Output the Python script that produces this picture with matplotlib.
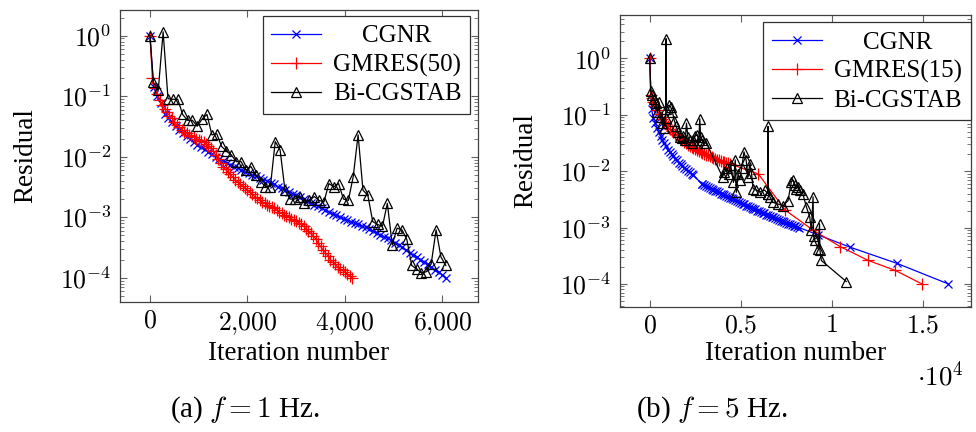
import numpy as np
import matplotlib
matplotlib.use("Agg")
import matplotlib.pyplot as plt
from matplotlib import ticker

plt.rcParams['font.family'] = ['Liberation Serif', 'DejaVu Serif']
plt.rcParams['mathtext.fontset'] = 'cm'
plt.rcParams['font.size'] = 18

# ---------------- data: (a) f = 1 Hz ----------------
a_cgnr_it = list(range(0, 6076, 75))
a_cgnr_res = [1.0, 0.141, 0.100, 0.076, 0.051, 0.044, 0.037, 0.032, 0.028, 0.0245,
              0.0219, 0.0195, 0.0174, 0.0158, 0.0145, 0.0132, 0.0120, 0.0110, 0.0100, 0.0091,
              0.0085, 0.0079, 0.0074, 0.0069, 0.0065, 0.0060, 0.0056, 0.0054, 0.0050, 0.0048,
              0.0045, 0.0042, 0.0040, 0.0037, 0.0035, 0.0032, 0.0030, 0.0028, 0.0026, 0.00245,
              0.00229, 0.00214, 0.0020, 0.00186, 0.00174, 0.00162, 0.00151, 0.00141, 0.00132, 0.00123,
              0.00115, 0.00107, 0.00100, 0.00095, 0.00089, 0.00085, 0.00079, 0.00076, 0.00071, 0.00068,
              0.00063, 0.00059, 0.00055, 0.00051, 0.00048, 0.00045, 0.00042, 0.00038, 0.00035, 0.00032,
              0.00029, 0.00026, 0.00024, 0.00022, 0.00020, 0.00018, 0.000166, 0.000148, 0.000135, 0.000123,
              0.000112, 0.000100]

a_gmres_it = list(range(0, 4151, 50))
a_gmres_res = [1.0, 0.20, 0.138, 0.107, 0.087, 0.071, 0.062, 0.054, 0.048, 0.043,
               0.038, 0.034, 0.031, 0.028, 0.026, 0.0245, 0.0229, 0.0219, 0.0209, 0.0200,
               0.0191, 0.0182, 0.0174, 0.0162, 0.0151, 0.0138, 0.0123, 0.0107, 0.0093, 0.0079,
               0.0069, 0.0062, 0.0056, 0.0051, 0.0046, 0.0042, 0.0038, 0.0035, 0.0033, 0.0030,
               0.0028, 0.0026, 0.0024, 0.0022, 0.0021, 0.0019, 0.0018, 0.0017, 0.0016, 0.00155,
               0.00148, 0.00141, 0.00132, 0.00123, 0.00117, 0.0011, 0.00105, 0.0010, 0.00095, 0.00091,
               0.00087, 0.00081, 0.00076, 0.00071, 0.00065, 0.00059, 0.00054, 0.00049, 0.00044, 0.00038,
               0.00033, 0.00029, 0.00026, 0.00023, 0.0002, 0.00018, 0.000166, 0.000151, 0.000141, 0.000132,
               0.000123, 0.000115, 0.000107, 0.0001]

a_bicg_it = [0] + list(range(70, 6071, 100))
a_bicg_res = [1.0, 0.17, 0.126, 1.16, 0.091, 0.089, 0.089, 0.05, 0.04, 0.04,
              0.032, 0.042, 0.05, 0.023, 0.024, 0.0148, 0.0123, 0.0107, 0.0083, 0.0083,
              0.006, 0.0069, 0.005, 0.0039, 0.0032, 0.0032, 0.0178, 0.0129, 0.0028, 0.002,
              0.002, 0.0022, 0.0017, 0.0019, 0.0022, 0.0019, 0.0018, 0.0036, 0.0032, 0.0036,
              0.002, 0.0019, 0.0047, 0.023, 0.0028, 0.0023, 0.00085, 0.00076, 0.00071, 0.0017,
              0.00035, 0.00066, 0.00062, 0.00043, 0.00016, 0.00014, 0.00012, 0.000126, 0.00017, 0.00062,
              0.00022, 0.00016]

# ---------------- data: (b) f = 5 Hz ----------------
b_cgnr_it = [0] + list(range(100, 2401, 100)) + [2850] + list(range(2900, 8201, 100)) + [9250, 10990, 13600, 16400]
b_cgnr_res = [1.0,
              0.126, 0.087, 0.071, 0.059, 0.049, 0.042, 0.036, 0.032, 0.0275, 0.024,
              0.0219, 0.0200, 0.0182, 0.0166, 0.0155, 0.0141, 0.0132, 0.0123, 0.0115, 0.0107,
              0.0100, 0.0095, 0.0089, 0.0085,
              0.0060,
              0.0059, 0.0056, 0.0054, 0.0052, 0.0050, 0.0049, 0.0047, 0.0045, 0.0044, 0.0042,
              0.0040, 0.0039, 0.0037, 0.0036, 0.0035, 0.0034, 0.0033, 0.0032, 0.0031, 0.0030,
              0.0028, 0.00275, 0.0026, 0.00257, 0.00245, 0.0024, 0.0023, 0.0022, 0.00214, 0.0021,
              0.0020, 0.00195, 0.00186, 0.00182, 0.00178, 0.0017, 0.00166, 0.00158, 0.00155, 0.00151,
              0.00145, 0.00141, 0.00135, 0.00132, 0.00129, 0.00123, 0.0012, 0.00117, 0.00115, 0.0011,
              0.00107, 0.00105, 0.00102, 0.00100,
              0.00074, 0.00045, 0.00023, 0.0001]

b_gmres_it = [0, 50] + list(range(100, 4401, 100)) + [5970, 7440, 8990, 10460, 12010, 13480, 14950]
b_gmres_res = [1.0, 0.22,
               0.20, 0.166, 0.141, 0.120, 0.105, 0.093, 0.083, 0.074, 0.068, 0.062,
               0.056, 0.052, 0.049, 0.046, 0.043, 0.040, 0.037, 0.035, 0.033, 0.031,
               0.0295, 0.0282, 0.0269, 0.0257, 0.0245, 0.0234, 0.0224, 0.0219, 0.0209, 0.0204,
               0.0195, 0.0191, 0.0182, 0.0178, 0.0170, 0.0166, 0.0158, 0.0155, 0.0151, 0.0148,
               0.0145, 0.0141, 0.0138, 0.0135,
               0.0089, 0.00204, 0.00089, 0.00046, 0.00026, 0.000174, 0.0001]

b_bicg_it = [0, 60, 150, 250, 330, 420, 500, 580, 680, 760,
             880, 900, 920, 1050, 1150, 1250, 1350, 1450, 1550, 1650,
             1750, 1850, 1950, 2020, 2100, 2200, 2300, 2400, 2500, 2600,
             2700, 2750, 2800, 2900, 3000, 3100, 4000, 4100, 4250, 4350,
             4450, 4600, 4700, 4760, 4850, 4950, 5050, 5180, 5300, 5400,
             5500, 5590, 5680, 5860, 6040, 6320, 6480, 6500, 6520, 6600,
             6780, 7050, 7330, 7600, 7780, 7880, 7970, 8060, 8150, 8240,
             8420, 8610, 8790, 8880, 8975, 9000, 9070, 9250, 9330, 9350,
             9430, 10800]
b_bicg_res = [1.0, 0.26, 0.22, 0.19, 0.16, 0.11, 0.17, 0.091, 0.071, 0.058,
              0.089, 2.24, 0.126, 0.148, 0.138, 0.112, 0.079, 0.063, 0.050, 0.041,
              0.038, 0.042, 0.035, 0.071, 0.040, 0.035, 0.032, 0.035, 0.042, 0.044,
              0.035, 0.085, 0.040, 0.035, 0.031, 0.032, 0.0079, 0.0095, 0.0112, 0.0089,
              0.0126, 0.0063, 0.0158, 0.0042, 0.0089, 0.0071, 0.0112, 0.022, 0.0155, 0.0079,
              0.0135, 0.0093, 0.0049, 0.0046, 0.0043, 0.0046, 0.0040, 0.062, 0.0039, 0.0035,
              0.0028, 0.0026, 0.00245, 0.0030, 0.0065, 0.0069, 0.0056, 0.0049, 0.0052, 0.0046,
              0.0039, 0.0023, 0.00155, 0.00089, 0.0035, 0.00071, 0.00059, 0.00042, 0.00117, 0.0004,
              0.00026, 0.00011]

labels_a = ["CGNR", "GMRES(50)", "Bi-CGSTAB"]
labels_b = ["CGNR", "GMRES(15)", "Bi-CGSTAB"]

FS = 19.5
fig = plt.figure(figsize=(9.76, 4.32), dpi=100)
ax1 = fig.add_axes([120/976, 1-302/432, 358/976, 292/432])
ax2 = fig.add_axes([619.7/976, 1-307/432, 351.3/976, 292/432])

lw = 0.9
def draw(ax, d, labels):
    (c_it, c_r), (g_it, g_r), (b_it, b_r) = d
    ax.plot(c_it, c_r, color='blue', marker='x', ms=5.5, mew=0.9, lw=lw, label=labels[0])
    ax.plot(g_it, g_r, color='red', marker='+', ms=8, mew=0.9, lw=lw, label=labels[1])
    ax.plot(b_it, b_r, color='black', marker='^', ms=7, mew=0.9, mfc='none', lw=lw, label=labels[2])
    ax.set_yscale('log')
    ax.yaxis.set_major_locator(ticker.LogLocator(base=10, numticks=20))
    ax.yaxis.set_minor_locator(ticker.LogLocator(base=10, subs=np.arange(2, 10), numticks=20))
    ax.yaxis.set_major_formatter(ticker.FuncFormatter(lambda v, p: r"$10^{%d}$" % int(round(np.log10(v)))))
    ax.yaxis.set_minor_formatter(ticker.NullFormatter())
    for s in ax.spines.values():
        s.set_color('#404040')
        s.set_linewidth(0.9)
    ax.tick_params(which='both', direction='in', top=True, right=True, color='#606060')
    ax.tick_params(which='major', length=5, width=0.8, labelsize=18.5, pad=6)
    ax.tick_params(which='minor', length=3, width=0.6)
    ax.set_ylabel("Residual", fontsize=FS, labelpad=16)
    ax.set_xlabel("Iteration number", fontsize=FS, labelpad=3)

draw(ax1, [(a_cgnr_it, a_cgnr_res), (a_gmres_it, a_gmres_res), (a_bicg_it, a_bicg_res)], labels_a)
draw(ax2, [(b_cgnr_it, b_cgnr_res), (b_gmres_it, b_gmres_res), (b_bicg_it, b_bicg_res)], labels_b)

ax1.set_xlim(-615, 6730)
ax1.set_ylim(10**-4.40, 10**0.425)
ax1.set_xticks([0, 2000, 4000, 6000])
ax1.xaxis.set_major_formatter(ticker.FuncFormatter(lambda v, p: "$" + f"{int(v):,}".replace(",", "{,}") + "$"))

ax2.set_xlim(-1648, 17650)
ax2.set_ylim(10**-4.41, 10**0.77)
ax2.set_xticks([0, 5000, 10000, 15000])
ax2.xaxis.set_major_formatter(ticker.FuncFormatter(lambda v, p: "$%g$" % (v / 1e4)))

legs = []
for ax, anchor in [(ax1, (0.978, 0.979)), (ax2, (0.999, 0.975))]:
    leg = ax.legend(loc='upper right', bbox_to_anchor=anchor, borderaxespad=0, fontsize=18,
                    handlelength=2.0, handletextpad=0.45, borderpad=0.35, labelspacing=0.25,
                    fancybox=False, framealpha=1, edgecolor='#303030')
    leg.get_frame().set_linewidth(0.9)
    legs.append(leg)

fig.text(940/976, 1-376/432, r"$\cdot 10^{4}$", fontsize=FS, ha='center', va='center')
fig.text(245/976, 1-410/432, r"(a) $f = 1$ Hz.", fontsize=21, ha='center', va='center')
fig.text(712/976, 1-410/432, r"(b) $f = 5$ Hz.", fontsize=21, ha='center', va='center')

# centre legend texts within their column (as in pgfplots)
fig.canvas.draw()
r = fig.canvas.get_renderer()
for leg in legs:
    texts = leg.get_texts()
    ws = [t.get_window_extent(r).width for t in texts]
    wm = max(ws)
    for t, w in zip(texts, ws):
        t.set_position(((wm - w) / 2, 0))

fig.savefig("out.png", dpi=100)
